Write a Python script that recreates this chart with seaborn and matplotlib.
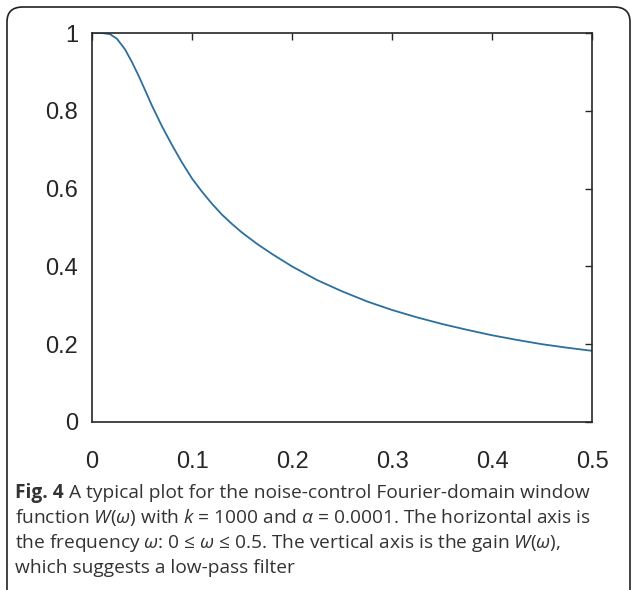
import matplotlib
matplotlib.use("Agg")
import matplotlib.pyplot as plt
import seaborn as sns
import pandas as pd
from matplotlib.patches import FancyBboxPatch

# Data
omega = [0.000, 0.010, 0.018, 0.025, 0.033, 0.040, 0.047, 0.055, 0.060, 0.070,
         0.080, 0.090, 0.100, 0.110, 0.120, 0.130, 0.140, 0.150, 0.165, 0.180,
         0.200, 0.225, 0.250, 0.275, 0.300, 0.325, 0.350, 0.375, 0.400, 0.425,
         0.450, 0.475, 0.500]
gain = [1.000, 1.000, 0.997, 0.985, 0.958, 0.925, 0.888, 0.842, 0.813, 0.760,
        0.712, 0.667, 0.626, 0.592, 0.561, 0.533, 0.509, 0.487, 0.458, 0.432,
        0.400, 0.365, 0.336, 0.310, 0.288, 0.269, 0.252, 0.237, 0.223, 0.211,
        0.200, 0.191, 0.183]
x_ticks = [0, 0.1, 0.2, 0.3, 0.4, 0.5]
x_tick_labels = ["0", "0.1", "0.2", "0.3", "0.4", "0.5"]
y_ticks = [0, 0.2, 0.4, 0.6, 0.8, 1]
y_tick_labels = ["0", "0.2", "0.4", "0.6", "0.8", "1"]

caption_lines = [
    r"function $W$($ω$) with $k$ = 1000 and $α$ = 0.0001. The horizontal axis is",
    r"the frequency $ω$: 0 ≤ $ω$ ≤ 0.5. The vertical axis is the gain $W$($ω$),",
    r"which suggests a low-pass filter",
]

sns.set_theme(style="white")
plt.rcParams["font.family"] = ["Liberation Sans", "DejaVu Sans"]
plt.rcParams["mathtext.fontset"] = "custom"
plt.rcParams["mathtext.rm"] = "Open Sans"
plt.rcParams["mathtext.it"] = "Open Sans:italic"

df = pd.DataFrame({"omega": omega, "gain": gain})

fig = plt.figure(figsize=(6.37, 5.90), dpi=100)
W, H = 637, 590

# rounded frame
frame = FancyBboxPatch((7 / W, -20 / H), (630 - 7) / W, (590 - 7 + 20) / H,
                       boxstyle="round,pad=0,rounding_size=0.025",
                       transform=fig.transFigure, fill=False,
                       edgecolor="#222222", linewidth=1.2)
fig.patches.append(frame)

ax = fig.add_axes([92 / W, 1 - 422 / H, (592 - 92) / W, (422 - 33) / H])
sns.lineplot(data=df, x="omega", y="gain", ax=ax, color="#2a6f9e", linewidth=1.3)

ax.set_xlim(0, 0.5)
ax.set_ylim(0, 1)
ax.set_xticks(x_ticks)
ax.set_xticklabels(x_tick_labels)
ax.set_yticks(y_ticks)
ax.set_yticklabels(y_tick_labels)
ax.set_xlabel("")
ax.set_ylabel("")
for s in ax.spines.values():
    s.set_visible(True)
    s.set_color("#262626")
    s.set_linewidth(1.2)
ax.tick_params(axis="both", direction="in", length=5, width=1, color="#262626",
               top=True, right=True, labelsize=17, labelcolor="#262626")
ax.tick_params(axis="x", pad=21)
ax.tick_params(axis="y", pad=10)

# caption
cap_font = ["Open Sans", "DejaVu Sans"]
cap_size = 13.8
cap_color = "#333333"
t1 = fig.text(15 / W, 1 - 493 / H, "Fig. 4", fontsize=cap_size, fontweight="bold",
              family=cap_font, color=cap_color, va="center", ha="left")
fig.canvas.draw()
bb = t1.get_window_extent()
fig.text(bb.x1 / W + 5 / W, 1 - 493 / H, "A typical plot for the noise-control Fourier-domain window",
         fontsize=cap_size, family=cap_font, color=cap_color, va="center", ha="left")
for i, line in enumerate(caption_lines):
    fig.text(15 / W, 1 - (518 + 25 * i) / H, line, fontsize=cap_size, family=cap_font,
             color=cap_color, va="center", ha="left")

fig.savefig("out.png", dpi=100)
